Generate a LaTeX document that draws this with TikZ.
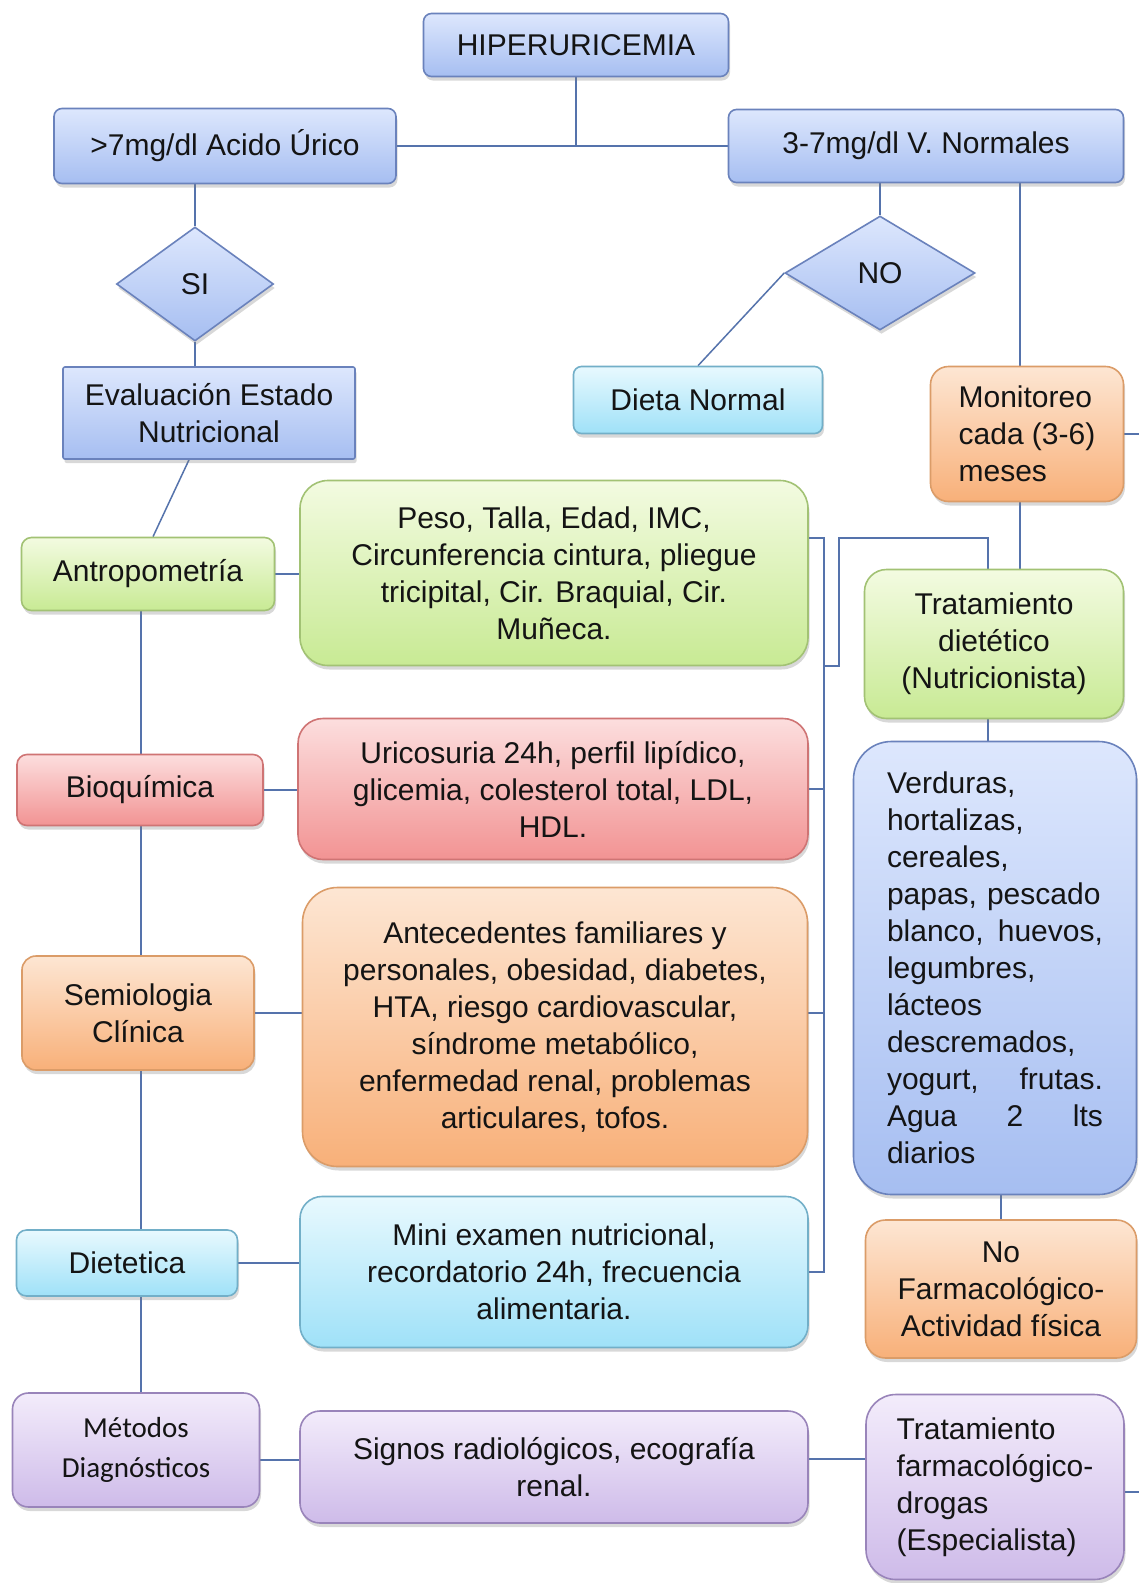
\documentclass[tikz,border=0pt]{standalone}
\usepackage{fontspec}
\setmainfont{Liberation Sans}
\newfontfamily\calibrifont{Carlito}
\usetikzlibrary{shapes.geometric,shadows,backgrounds}

% palette
\definecolor{textcol}{HTML}{141414}
\definecolor{linecol}{HTML}{5573AC}
\definecolor{bluetop}{HTML}{DDE7FD}
\definecolor{bluebot}{HTML}{A6BEF1}
\definecolor{blueline}{HTML}{6A82BC}
\definecolor{cyantop}{HTML}{E8F9FE}
\definecolor{cyanbot}{HTML}{9FE1F8}
\definecolor{cyanline}{HTML}{72AFC8}
\definecolor{orgtop}{HTML}{FDE6D3}
\definecolor{orgbot}{HTML}{F8B079}
\definecolor{orgline}{HTML}{DB9C68}
\definecolor{grntop}{HTML}{F3FBE1}
\definecolor{grnbot}{HTML}{C8EA94}
\definecolor{grnline}{HTML}{A2C274}
\definecolor{redtop}{HTML}{FCDEDE}
\definecolor{redbot}{HTML}{F29393}
\definecolor{redline}{HTML}{CF7474}
\definecolor{purtop}{HTML}{F3ECFB}
\definecolor{purbot}{HTML}{CEBBE9}
\definecolor{purline}{HTML}{9984BA}

\tikzset{
  box/.style={draw, line width=1.6pt, rounded corners=8pt, inner sep=0pt,
    align=center, text=textcol, font=\fontsize{30}{37}\selectfont,
    drop shadow={shadow xshift=1.5pt, shadow yshift=-4pt, opacity=0.3}},
  sz/.style 2 args={minimum width=#1, minimum height=#2},
  bluebox/.style={box, draw=blueline, top color=bluetop, bottom color=bluebot},
  cyanbox/.style={box, draw=cyanline, top color=cyantop, bottom color=cyanbot},
  orgbox/.style={box, draw=orgline, top color=orgtop, bottom color=orgbot},
  grnbox/.style={box, draw=grnline, top color=grntop, bottom color=grnbot},
  redbox/.style={box, draw=redline, top color=redtop, bottom color=redbot},
  purbox/.style={box, draw=purline, top color=purtop, bottom color=purbot},
  decision/.style={bluebox, diamond, rounded corners=0pt},
  conn/.style={draw=linecol, line width=1.5pt},
}

\begin{document}
\begin{tikzpicture}[x=1pt, y=-1pt]
\useasboundingbox (0,0) rectangle (1139,1583);

% top of the tree
\node[bluebox, sz={305}{63}] (hiper) at (576,45) {HIPERURICEMIA};
\node[bluebox, sz={342}{75}] (alto) at (225,146) {>7mg/dl Acido Úrico};
\node[bluebox, sz={395}{73}] (normal) at (926,146) {3-7mg/dl V. Normales};
\node[decision, sz={157}{114}] (si) at (195,284) {SI};
\node[decision, sz={190}{114}] (no) at (880,273) {NO};
\node[bluebox, rounded corners=2pt, sz={292}{92}] (eval) at (209,413) {Evaluación Estado\\Nutricional};
\node[cyanbox, sz={249}{67}] (dieta) at (698,400) {Dieta Normal};
\node[orgbox, rounded corners=18pt, sz={193}{135}, align=left] (mon) at (1027,434) {Monitoreo\\cada (3-6)\\meses};

% evaluation column
\node[grnbox, rounded corners=10pt, sz={253}{73}] (antro) at (148,574) {Antropometría};
\node[redbox, rounded corners=10pt, sz={246}{71}] (bio) at (140,790) {Bioquímica};
\node[orgbox, rounded corners=14pt, sz={232}{114}] (semi) at (138,1013) {Semiologia\\Clínica};
\node[cyanbox, rounded corners=10pt, sz={221}{66}] (diet) at (127,1263) {Dietetica};
\node[purbox, rounded corners=16pt, sz={247}{114}, font=\calibrifont\fontsize{29}{40}\selectfont] (met) at (136,1450) {Métodos\\Diagnósticos};

% details
\node[grnbox, rounded corners=28pt, sz={508}{185}] (peso) at (554,573) {Peso, Talla, Edad, IMC,\\Circunferencia cintura, pliegue\\tricipital, Cir. Braquial, Cir.\\Muñeca.};
\node[redbox, rounded corners=25pt, sz={510}{141}] (uric) at (553,789) {Uricosuria 24h, perfil lipídico,\\glicemia, colesterol total, LDL,\\HDL.};
\node[orgbox, rounded corners=35pt, sz={505}{279}] (ante) at (555,1027) {Antecedentes familiares y\\personales, obesidad, diabetes,\\HTA, riesgo cardiovascular,\\síndrome metabólico,\\enfermedad renal, problemas\\articulares, tofos.};
\node[cyanbox, rounded corners=22pt, sz={508}{151}] (mini) at (554,1272) {Mini examen nutricional,\\recordatorio 24h, frecuencia\\alimentaria.};
\node[purbox, rounded corners=20pt, sz={508}{112}] (signos) at (554,1467) {Signos radiológicos, ecografía\\renal.};

% treatment column
\node[grnbox, rounded corners=22pt, sz={259}{149}] (tdiet) at (994,644) {Tratamiento\\dietético\\(Nutricionista)};
\node[bluebox, rounded corners=38pt, sz={283}{453}, align=left, text width=216pt] (verd) at (995,968)
  {Verduras,\\hortalizas,\\cereales,\\papas, pescado\\blanco,\hfill huevos,\\legumbres,\\lácteos\\descremados,\\yogurt,\hfill frutas.\\Agua\hfill 2\hfill lts\\diarios};
\node[orgbox, rounded corners=20pt, sz={271}{138}] (nofarm) at (1001,1289) {No\\Farmacológico-\\Actividad física};
\node[purbox, rounded corners=30pt, sz={258}{185}, align=left] (tfarm) at (995,1487) {Tratamiento\\farmacológico-\\drogas\\(Especialista)};

% helper points for the bracket, the monitoring drop and the page edge
\coordinate (edgeR) at (1139,0);
\coordinate (colX) at (141,0);
\coordinate (monX) at (1020,0);
\coordinate (bTop) at (824,538);
\coordinate (bMid) at (824,666);
\coordinate (bKnee) at (839,666);
\coordinate (bCorner) at (839,538);

\begin{scope}[on background layer]
  \fill[white] (0,0) rectangle (1139,1583);
  % root split
  \draw[conn] (alto.east) -- (normal.west);
  \draw[conn] (hiper.south) -- (hiper.south |- alto.east);
  % yes branch
  \draw[conn] (alto.south -| si.north) -- (si.north);
  \draw[conn] (si.south) -- (si.south |- eval.north);
  \draw[conn] ([xshift=-20pt]eval.south) -- ([xshift=5pt]antro.north);
  % normal branch
  \draw[conn] (normal.south -| no.north) -- (no.north);
  \draw[conn] (no.west) -- (dieta.north);
  \draw[conn] (mon.north -| monX) -- (normal.south -| monX);
  \draw[conn] (mon.east) -- (mon.east -| edgeR);
  \draw[conn] (mon.south -| monX) -- (tdiet.north -| monX);
  % evaluation spine
  \draw[conn] (antro.south -| colX) -- (met.north -| colX);
  \draw[conn] (antro.east) -- (antro.east -| peso.west);
  \draw[conn] (bio.east) -- (bio.east -| uric.west);
  \draw[conn] (semi.east) -- (semi.east -| ante.west);
  \draw[conn] (diet.east) -- (diet.east -| mini.west);
  \draw[conn] ([yshift=-10pt]met.east) -- ([yshift=-10pt]met.east -| signos.west);
  % bracket joining the details to the diet treatment
  \draw[conn] (bTop -| peso.east) -- (bTop) -- (bTop |- mini.east) -- (mini.east);
  \draw[conn] (uric.east) -- (uric.east -| bTop);
  \draw[conn] (semi.east -| ante.east) -- (semi.east -| bTop);
  \draw[conn] (bMid) -- (bKnee) -- (bCorner) -| ([xshift=-6pt]tdiet.north);
  % treatment chain
  \draw[conn] ([xshift=-6pt]tdiet.south) -- ([xshift=-6pt]tdiet.south |- verd.north);
  \draw[conn] (nofarm.north) -- (nofarm.north |- verd.south);
  \draw[conn] ([yshift=8pt]signos.east) -- ([yshift=8pt]signos.east -| tfarm.west);
  \draw[conn] ([yshift=-5pt]tfarm.east) -- ([yshift=-5pt]tfarm.east -| edgeR);
\end{scope}
\end{tikzpicture}
\end{document}
